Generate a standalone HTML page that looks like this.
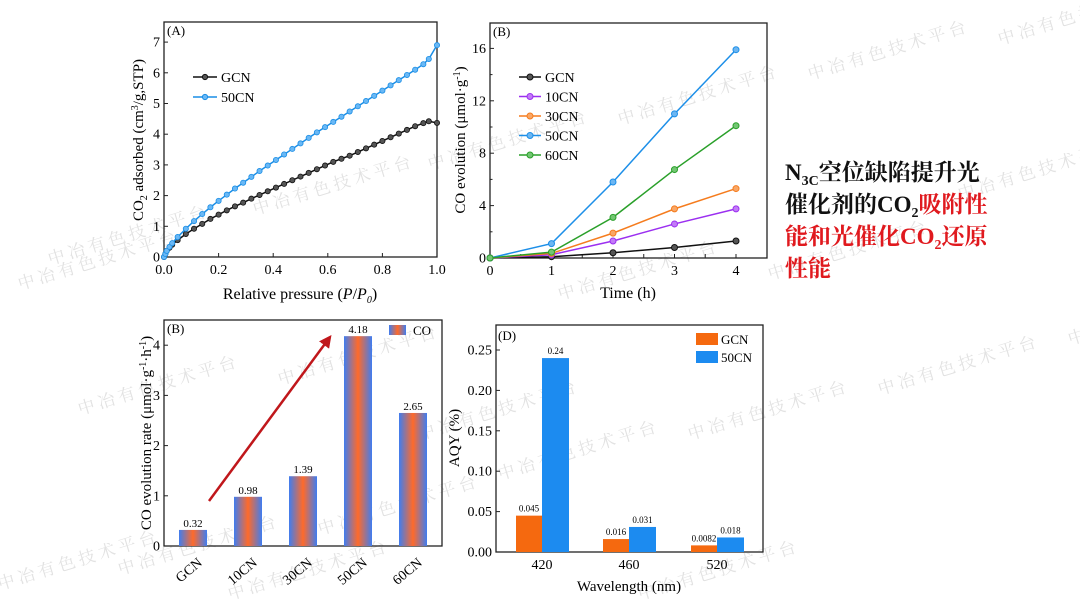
<!DOCTYPE html>
<html><head><meta charset="utf-8"><style>
html,body{margin:0;padding:0;background:#fff;}
svg{display:block;font-family:"Liberation Serif","Noto Serif CJK SC",serif;}
</style></head><body>
<svg id="s" width="1080" height="607" viewBox="0 0 1080 607" xmlns="http://www.w3.org/2000/svg">
<defs>
<linearGradient id="bg" x1="0" x2="1" y1="0" y2="0">
<stop offset="0" stop-color="#3f7df0"/><stop offset="0.5" stop-color="#ff6a2a"/><stop offset="1" stop-color="#3f7df0"/>
</linearGradient>
<marker id="ah" viewBox="0 0 10 10" refX="8" refY="5" markerWidth="5" markerHeight="5" orient="auto"><path d="M0,0L10,5L0,10z" fill="#c0171b"/></marker>
</defs>
<g id="wm"></g>
<g id="pa"></g>
<g id="pb"></g>
<g id="pc"></g>
<g id="pd"></g>
<g font-weight="bold" font-size="23">
<text x="785" y="180" fill="#111">N<tspan font-size="14" dy="5">3C</tspan><tspan dy="-5" font-family="Noto Serif CJK SC,serif">空位缺陷提升光</tspan></text>
<text x="785" y="212" fill="#111"><tspan font-family="Noto Serif CJK SC,serif">催化剂的</tspan>CO<tspan font-size="14" dy="5">2</tspan><tspan dy="-5" fill="#e0191e" font-family="Noto Serif CJK SC,serif">吸附性</tspan></text>
<text x="785" y="244" fill="#e0191e"><tspan font-family="Noto Serif CJK SC,serif">能和光催化</tspan>CO<tspan font-size="14" dy="5">2</tspan><tspan dy="-5" font-family="Noto Serif CJK SC,serif">还原</tspan></text>
<text x="785" y="276" fill="#e0191e" font-family="Noto Serif CJK SC,serif">性能</text>
</g>
</svg>
<script>
// ---- Panel A data ----
const aX = [0,0.005,0.01,0.02,0.03,0.05,0.08,0.11,0.14,0.17,0.2,0.23,0.26,0.29,0.32,0.35,0.38,0.41,0.44,0.47,0.5,0.53,0.56,0.59,0.62,0.65,0.68,0.71,0.74,0.77,0.8,0.83,0.86,0.89,0.92,0.95,0.97,1.0];
const aGCN = [0,0.1,0.2,0.3,0.4,0.55,0.75,0.92,1.08,1.24,1.38,1.52,1.65,1.77,1.9,2.02,2.14,2.26,2.38,2.5,2.62,2.74,2.86,2.98,3.1,3.2,3.3,3.42,3.54,3.66,3.78,3.9,4.02,4.14,4.26,4.36,4.42,4.37];
const a50CN = [0,0.1,0.2,0.33,0.45,0.65,0.92,1.17,1.4,1.62,1.83,2.03,2.23,2.42,2.61,2.8,2.98,3.16,3.34,3.52,3.7,3.88,4.06,4.23,4.4,4.57,4.74,4.91,5.08,5.25,5.42,5.59,5.76,5.93,6.1,6.28,6.45,6.9];
// ---- Panel B data ----
const bT = [0,1,2,3,4];
const bNames = ["GCN","10CN","30CN","50CN","60CN"];
const bGCN = [0,0.1,0.4,0.8,1.3];
const b10CN = [0,0.25,1.3,2.6,3.75];
const b30CN = [0,0.35,1.9,3.75,5.3];
const b50CN = [0,1.1,5.8,11,15.9];
const b60CN = [0,0.45,3.1,6.75,10.1];
// ---- Panel C data ----
const cCats = ["GCN","10CN","30CN","50CN","60CN"];
const cVals = [0.32,0.98,1.39,4.18,2.65];
// ---- Panel D data ----
const dCats = ["420","460","520"];
const dGCN = [0.045,0.016,0.0082];
const d50CN = [0.24,0.031,0.018];
const dYTicks = ["0.00","0.05","0.10","0.15","0.20","0.25"];

const NS="http://www.w3.org/2000/svg";
function el(p,t,a,txt){const e=document.createElementNS(NS,t);for(const k in a)e.setAttribute(k,a[k]);if(txt!==undefined)e.textContent=txt;p.appendChild(e);return e;}
function frame(g,x0,x1,y0,y1){const r=el(g,'rect',{x:x0,y:y0,width:x1-x0,height:y1-y0,fill:'none',stroke:'#222','stroke-width':1.3});}
function ytick(g,x,y,lab,fs){el(g,'line',{x1:x,x2:x+4,y1:y,y2:y,stroke:'#222'});const t=el(g,'text',{x:x-4,y:y+4.5,'text-anchor':'end','font-size':fs||14},lab);}
function xtick(g,x,y,lab,fs){el(g,'line',{x1:x,x2:x,y1:y,y2:y-4,stroke:'#222'});if(lab!==null){const t=el(g,'text',{x:x,y:y+17,'text-anchor':'middle','font-size':fs||14},lab);}}

// watermarks
const wm=document.getElementById('wm');
[[20,290],[50,265],[255,215],[430,170],[620,125],[810,80],[1000,45],[280,385],[80,415],[420,440],[500,480],[690,440],[880,395],[1070,345],[120,575],[320,535],[560,300],[770,280],[960,200],[230,600],[640,600],[0,590]].forEach(p=>{
 const t=el(wm,'text',{x:p[0],y:p[1],transform:`rotate(-17 ${p[0]} ${p[1]})`,'font-size':17,fill:'#e2e2e2','letter-spacing':4,'font-family':'Noto Serif CJK SC,serif'},'中冶有色技术平台');
 
});

// Panel A
(function(){
 const g=document.getElementById('pa');const X0=164,X1=437,Y0=257,TOP=22;
 const sx=v=>X0+v*(X1-X0), sy=v=>Y0-v*30.7;
 frame(g,X0,X1,TOP,Y0);
 for(let i=0;i<=7;i++)ytick(g,X0,sy(i),String(i));
 for(let i=0;i<=5;i++)xtick(g,sx(i*0.2),Y0,(i*0.2).toFixed(1));
 [[aGCN,'#111','#555','gcn'],[a50CN,'#1a8ee6','#6ab8f5','50cn']].forEach(s=>{
  const pl=el(g,'polyline',{points:aX.map((x,i)=>sx(x)+','+sy(s[0][i])).join(' '),fill:'none',stroke:s[1],'stroke-width':1.5});
  
  aX.forEach((x,i)=>{const c=el(g,'circle',{cx:sx(x),cy:sy(s[0][i]),r:2.6,fill:s[2],stroke:s[1],'stroke-width':0.8});});
 });
 el(g,'text',{x:167,y:35,'font-size':13},'(A)');
 [['GCN','#111','#555',77],['50CN','#1a8ee6','#6ab8f5',97]].forEach(l=>{
  const lg=el(g,'g',{});
  el(lg,'line',{x1:193,x2:217,y1:l[3],y2:l[3],stroke:l[1],'stroke-width':1.5});el(lg,'circle',{cx:205,cy:l[3],r:2.6,fill:l[2],stroke:l[1]});
  el(lg,'text',{x:221,y:l[3]+5,'font-size':14},l[0]);
 });
 const xt=el(g,'text',{x:300,y:299,'text-anchor':'middle','font-size':16});
 xt.innerHTML='Relative pressure (<tspan font-style="italic">P</tspan>/<tspan font-style="italic">P</tspan><tspan font-size="10" dy="4" font-style="italic">0</tspan><tspan dy="-4">)</tspan>';
 const yt=el(g,'text',{x:0,y:0,transform:'translate(143,140) rotate(-90)','text-anchor':'middle','font-size':15});
 yt.innerHTML='CO<tspan font-size="10" dy="4">2</tspan><tspan dy="-4"> adsorbed (cm</tspan><tspan font-size="10" dy="-5">3</tspan><tspan dy="5">/g,STP)</tspan>';
})();

// Panel B
(function(){
 const g=document.getElementById('pb');const X0=490,X1=767,Y0=258,TOP=23;
 const sx=v=>X0+v*61.5, sy=v=>Y0-v*13.1;
 frame(g,X0,X1,TOP,Y0);
 [0,4,8,12,16].forEach(v=>ytick(g,X0,sy(v),String(v)));
 [2,6,10,14].forEach(v=>el(g,'line',{x1:X0,x2:X0+2.5,y1:sy(v),y2:sy(v),stroke:'#222'}));
 bT.forEach(t=>xtick(g,sx(t),Y0,String(t)));
 [0.5,1.5,2.5,3.5].forEach(t=>xtick(g,sx(t),Y0,null));
 const series=[bGCN,b10CN,b30CN,b50CN,b60CN];
 const cols=['#111','#9b2ff0','#f57c1e','#1d8fe8','#2aa02a'];
 const fills=['#555','#c27bf7','#f9a766','#6cb6f2','#73c673'];
 series.forEach((s,k)=>{
  const pl=el(g,'polyline',{points:bT.map((t,i)=>sx(t)+','+sy(s[i])).join(' '),fill:'none',stroke:cols[k],'stroke-width':1.5});
  
  bT.forEach((t,i)=>{const c=el(g,'circle',{cx:sx(t),cy:sy(s[i]),r:3,fill:fills[k],stroke:cols[k]});});
  const y=77+k*19.5;const lg=el(g,'g',{});
  el(lg,'line',{x1:519,x2:541,y1:y,y2:y,stroke:cols[k],'stroke-width':1.5});el(lg,'circle',{cx:530,cy:y,r:3,fill:fills[k],stroke:cols[k]});
  el(lg,'text',{x:545,y:y+5,'font-size':14},bNames[k]);
 });
 el(g,'text',{x:493,y:36,'font-size':13},'(B)');
 const xt=el(g,'text',{x:628,y:298,'text-anchor':'middle','font-size':16},'Time (h)');
 const yt=el(g,'text',{x:0,y:0,transform:'translate(465,140) rotate(-90)','text-anchor':'middle','font-size':15});
 yt.innerHTML='CO evolution (μmol·g<tspan font-size="10" dy="-5">-1</tspan><tspan dy="5">)</tspan>';
})();

// Panel C
(function(){
 const g=document.getElementById('pc');const X0=164,X1=442,Y0=546,TOP=320;
 const sy=v=>Y0-v*50.2, sx=i=>193+i*55;
 frame(g,X0,X1,TOP,Y0);
 [0,1,2,3,4].forEach(v=>ytick(g,X0,sy(v),String(v)));
 cCats.forEach((c,i)=>{
  const b=el(g,'rect',{x:sx(i)-14,y:sy(cVals[i]),width:28,height:Y0-sy(cVals[i]),fill:'url(#bg)'});
  const v=el(g,'text',{x:sx(i),y:sy(cVals[i])-3,'text-anchor':'middle','font-size':11},cVals[i].toFixed(2));
  const t=el(g,'text',{x:sx(i)+10,y:Y0+18,transform:`rotate(-40 ${sx(i)+10} ${Y0+18})`,'text-anchor':'end','font-size':14},c);
 });
 const ar=el(g,'line',{x1:209,y1:501,x2:330,y2:337,stroke:'#c0171b','stroke-width':2.5,'marker-end':'url(#ah)'});
 el(g,'text',{x:167,y:333,'font-size':13},'(B)');
 const lg=el(g,'g',{});
 el(lg,'rect',{x:389,y:325,width:17,height:10,fill:'url(#bg)'});el(lg,'text',{x:413,y:335,'font-size':13},'CO');
 const yt=el(g,'text',{x:0,y:0,transform:'translate(151,433) rotate(-90)','text-anchor':'middle','font-size':15});
 yt.innerHTML='CO evolution rate (μmol·g<tspan font-size="10" dy="-5">-1</tspan><tspan dy="5">·h</tspan><tspan font-size="10" dy="-5">-1</tspan><tspan dy="5">)</tspan>';
})();

// Panel D
(function(){
 const g=document.getElementById('pd');const X0=496,X1=763,Y0=552,TOP=325;
 const sy=v=>Y0-v*808, sx=i=>[542,629,717][i];
 frame(g,X0,X1,TOP,Y0);
 dYTicks.forEach(v=>ytick(g,X0,sy(parseFloat(v)),v));
 dCats.forEach((c,i)=>{
  xtick(g,sx(i),Y0,c);
  const b1=el(g,'rect',{x:sx(i)-26,y:sy(dGCN[i]),width:26,height:Y0-sy(dGCN[i]),fill:'#f5690f'});
  const b2=el(g,'rect',{x:sx(i),y:sy(d50CN[i]),width:27,height:Y0-sy(d50CN[i]),fill:'#1c8bf0'});
  el(g,'text',{x:sx(i)-13,y:sy(dGCN[i])-4,'text-anchor':'middle','font-size':9},String(dGCN[i]));
  el(g,'text',{x:sx(i)+13.5,y:sy(d50CN[i])-4,'text-anchor':'middle','font-size':9},String(d50CN[i]));
 });
 el(g,'text',{x:498,y:340,'font-size':13},'(D)');
 [['GCN','#f5690f',339],['50CN','#1c8bf0',357]].forEach(l=>{
  const lg=el(g,'g',{});
  el(lg,'rect',{x:696,y:l[2]-6,width:22,height:12,fill:l[1]});el(lg,'text',{x:721,y:l[2]+5,'font-size':13},l[0]);
 });
 const xt=el(g,'text',{x:629,y:591,'text-anchor':'middle','font-size':15},'Wavelength (nm)');
 const yt=el(g,'text',{x:0,y:0,transform:'translate(459,438) rotate(-90)','text-anchor':'middle','font-size':15},'AQY (%)');
})();
</script>
</body></html>
